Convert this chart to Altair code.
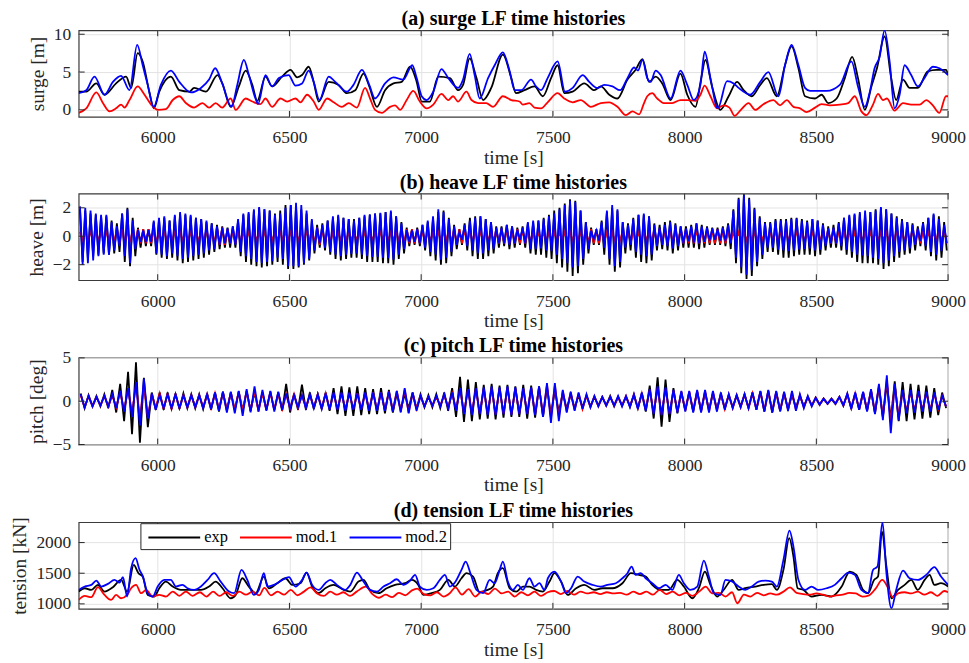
import altair as alt
import pandas as pd

SERIES = ["exp", "mod.1", "mod.2"]
COLORS = ["#000000", "#ff0000", "#0000ff"]
XTICKS = [6000, 6500, 7000, 7500, 8000, 8500, 9000]
FONT = "Liberation Serif"

# ---------------- (a) surge [m] ----------------
surge_exp_t = [5700, 5729, 5767, 5798, 5842, 5880, 5899, 5924, 5943, 5968, 5985, 6006, 6050, 6082, 6120, 6138, 6183, 6227, 6245, 6277,
               6308, 6334, 6359, 6378, 6409, 6434, 6472, 6504, 6529, 6548, 6573, 6592, 6611, 6649, 6687, 6718, 6750, 6781, 6803, 6832,
               6863, 6895, 6926, 6958, 6983, 7002, 7033, 7065, 7109, 7140, 7159, 7184, 7210, 7235, 7266, 7310, 7342, 7360, 7392, 7430,
               7462, 7493, 7518, 7543, 7575, 7619, 7657, 7682, 7714, 7745, 7783, 7814, 7840, 7865, 7890, 7915, 7947, 7984, 8010, 8041,
               8063, 8079, 8104, 8136, 8167, 8199, 8224, 8255, 8287, 8312, 8350, 8381, 8406, 8432, 8457, 8495, 8520, 8545, 8577, 8608,
               8636, 8658, 8684, 8709, 8730, 8759, 8784, 8803, 8829, 8854, 8885, 8923, 8955, 8992, 9000]
surge_exp_v = [2.4, 2.4, 3.5, 2.0, 3.5, 4.4, 2.9, 7.5, 6.4, 2.4, 0.2, 2.4, 4.4, 2.6, 2.4, 2.9, 2.4, 4.6, 3.5, 0.4,
               3.1, 5.2, 3.3, 1.2, 4.4, 3.1, 4.4, 5.3, 4.3, 4.6, 5.7, 3.7, 1.1, 3.7, 3.3, 2.2, 2.6, 4.8, 3.1, 0.4,
               2.6, 3.5, 3.7, 5.7, 3.7, 1.1, 1.1, 4.4, 4.2, 2.6, 3.3, 6.8, 4.2, 1.3, 2.9, 7.3, 4.2, 2.2, 2.6, 3.1,
               1.8, 4.2, 5.9, 2.2, 2.4, 3.5, 2.6, 3.1, 2.0, 1.5, 4.0, 5.3, 6.7, 3.7, 4.4, 3.5, 1.3, 4.8, 2.0, 0.4,
               4.2, 6.6, 3.1, 0.0, 1.8, 3.7, 2.6, 1.8, 3.3, 4.2, 1.8, 5.9, 8.4, 5.5, 1.8, 1.5, 2.0, 0.9, 1.5, 4.2,
               7.0, 4.2, 0.0, 3.1, 5.5, 9.7, 4.2, 1.3, 4.0, 2.9, 2.9, 5.1, 5.3, 5.3, 4.6]
surge_mod1_t = [5700, 5729, 5767, 5792, 5817, 5842, 5861, 5874, 5893, 5924, 5950, 5975, 6000, 6031, 6057, 6082, 6107, 6138, 6170, 6195,
                6220, 6245, 6277, 6296, 6334, 6359, 6390, 6409, 6434, 6466, 6491, 6523, 6542, 6567, 6592, 6611, 6643, 6668, 6699, 6725,
                6756, 6787, 6806, 6825, 6851, 6882, 6901, 6920, 6945, 6970, 6995, 7021, 7046, 7077, 7103, 7121, 7140, 7172, 7191, 7216,
                7247, 7273, 7310, 7342, 7373, 7386, 7411, 7430, 7455, 7480, 7518, 7543, 7575, 7606, 7644, 7682, 7714, 7745, 7777, 7802,
                7827, 7846, 7858, 7877, 7896, 7921, 7953, 7984, 8010, 8041, 8060, 8076, 8098, 8123, 8148, 8170, 8190, 8211, 8243, 8268,
                8299, 8337, 8362, 8388, 8413, 8438, 8463, 8495, 8520, 8551, 8589, 8621, 8646, 8671, 8690, 8715, 8734, 8753, 8768, 8797,
                8829, 8860, 8892, 8917, 8942, 8967, 8992, 9000]
surge_mod1_v = [-0.4, 0.2, 2.3, 0.9, -0.2, 0.2, 0.7, 0.3, 1.3, 3.1, 2.0, 0.7, 0.0, 0.1, 1.3, 1.8, 0.9, 0.3, 0.9, 0.3,
                0.9, 0.3, 1.5, 0.0, 1.5, 1.1, 0.75, 1.5, 0.4, 1.5, 1.1, 1.5, 1.0, 2.0, 1.1, 0.0, 1.5, 1.0, 0.4, 0.9,
                0.3, 2.9, 1.5, 0.0, -0.4, 0.4, 0.6, 0.0, 1.3, 2.5, 1.1, 0.2, 0.7, 2.1, 1.3, 1.8, 1.1, 2.4, 1.3, 0.9,
                0.9, 0.4, 1.8, 1.3, 1.1, 0.7, 0.9, 0.3, 0.2, 1.0, 2.2, 1.5, 1.0, 1.3, 0.4, 0.9, 1.0, 0.4, -0.7, -0.2,
                -0.6, 0.9, 1.8, 2.2, 1.5, 0.9, 0.9, 1.3, 1.3, 1.2, 2.0, 3.2, 1.8, 0.2, 0.6, 0.3, -0.8, -0.1, 0.9, 0.0,
                0.75, 1.3, 0.6, 1.3, 0.4, 0.2, -0.3, 0.3, 0.75, 0.6, 0.7, 0.9, 1.8, -0.2, -0.7, 0.7, 2.1, 1.3, 1.5, -0.1,
                0.9, 0.7, 0.7, 1.3, 0.6, -0.4, 1.8, 1.8]
surge_mod2_t = [5700, 5729, 5760, 5798, 5830, 5861, 5893, 5922, 5943, 5962, 5985, 6012, 6050, 6082, 6126, 6164, 6195, 6218, 6245, 6280,
                6302, 6327, 6346, 6371, 6381, 6409, 6434, 6460, 6497, 6523, 6548, 6573, 6592, 6614, 6649, 6674, 6718, 6743, 6775, 6803,
                6825, 6863, 6895, 6932, 6966, 6983, 7002, 7021, 7046, 7077, 7103, 7140, 7159, 7184, 7203, 7222, 7254, 7279, 7310, 7336,
                7355, 7380, 7417, 7436, 7455, 7480, 7518, 7546, 7575, 7613, 7638, 7669, 7695, 7726, 7755, 7783, 7808, 7823, 7840, 7858,
                7871, 7890, 7909, 7947, 7984, 8010, 8035, 8060, 8076, 8098, 8126, 8161, 8186, 8205, 8249, 8287, 8318, 8356, 8381, 8406,
                8432, 8457, 8476, 8539, 8589, 8633, 8658, 8684, 8703, 8721, 8740, 8759, 8778, 8797, 8816, 8835, 8860, 8885, 8910, 8942,
                8967, 9000]
surge_mod2_v = [2.2, 2.6, 4.4, 2.0, 3.7, 4.5, 2.6, 8.6, 5.9, 3.3, 0.4, 3.3, 5.2, 3.7, 2.3, 2.9, 4.0, 5.5, 3.5, 0.4,
                3.3, 6.6, 4.6, 1.5, 0.8, 4.6, 3.1, 4.2, 4.6, 3.2, 3.5, 5.2, 3.7, 1.3, 4.4, 3.7, 2.4, 3.3, 5.3, 3.3,
                1.5, 3.5, 4.3, 4.0, 5.9, 4.2, 1.8, 1.3, 2.4, 5.4, 4.2, 2.9, 4.0, 7.4, 4.6, 1.5, 4.2, 5.9, 7.6, 5.1,
                2.6, 2.6, 4.0, 3.1, 2.6, 4.2, 6.4, 2.4, 2.9, 4.6, 3.7, 2.9, 3.3, 3.1, 2.6, 4.2, 5.6, 5.2, 6.6, 4.2,
                3.7, 5.2, 4.6, 1.5, 5.2, 3.3, 1.3, 3.3, 7.7, 4.2, 0.2, 3.8, 3.5, 2.9, 2.0, 3.7, 5.0, 1.8, 5.9, 8.6,
                5.9, 2.9, 2.5, 2.5, 3.3, 6.4, 3.1, 0.4, 2.4, 5.5, 7.0, 10.5, 6.4, 0.2, 2.0, 5.9, 4.6, 3.1, 4.2, 5.7,
                5.5, 4.6]

# ---------------- (b) heave [m]: crest / trough of each 20 s wave cycle ----------------
heave_cycle_start = 5700
heave_cycle_len = 20
heave_exp_hi = [1.9, 1.8, 1.6, 1.5, 1.4, 1.4, 1.1, 0.9, 1.6, 2.0, 1.3, 0.6, 0.5, 0.5, 1.0, 1.2, 1.3, 1.1, 1.4, 1.6,
                1.5, 1.4, 1.3, 1.2, 1.0, 0.9, 0.8, 0.7, 0.6, 0.7, 1.1, 1.5, 1.6, 1.8, 2.0, 1.9, 1.8, 1.6, 1.8, 2.2,
                2.2, 2.1, 1.9, 1.6, 1.1, 0.8, 0.9, 1.1, 1.3, 1.4, 1.3, 1.2, 1.2, 1.3, 1.4, 1.5, 1.6, 1.6, 1.7, 1.7,
                1.4, 1.0, 0.6, 0.5, 0.6, 0.8, 1.0, 1.3, 1.7, 1.8, 1.3, 0.8, 0.5, 0.9, 1.3, 1.4, 1.4, 1.2, 1.0, 0.7,
                0.7, 0.8, 0.7, 0.6, 0.7, 0.9, 1.0, 1.1, 1.3, 1.5, 1.8, 2.0, 2.3, 2.6, 2.5, 1.8, 1.0, 0.6, 0.5, 1.1,
                1.7, 2.0, 1.8, 1.0, 0.9, 1.3, 1.5, 1.5, 1.4, 0.9, 0.8, 1.0, 1.1, 0.9, 0.7, 0.7, 0.8, 0.9, 0.8, 0.7,
                0.6, 0.6, 0.7, 0.9, 1.9, 2.7, 2.95, 2.7, 2.0, 1.4, 1.0, 1.0, 1.2, 1.2, 1.2, 1.3, 1.3, 1.2, 1.1, 1.2,
                1.1, 0.9, 0.7, 0.8, 1.0, 1.3, 1.4, 1.5, 1.6, 1.6, 1.7, 1.9, 2.0, 1.9, 1.6, 1.4, 1.2, 1.0, 0.9, 0.7,
                1.0, 1.3, 1.5, 1.4, 1.0]
heave_exp_lo = [1.8, 1.6, 1.4, 1.3, 1.2, 1.3, 1.2, 1.1, 1.8, 2.1, 1.4, 0.8, 0.7, 0.7, 1.3, 1.5, 1.6, 1.5, 1.7, 1.9,
                1.8, 1.7, 1.6, 1.5, 1.3, 1.1, 0.9, 0.8, 0.8, 0.8, 1.4, 1.8, 2.0, 2.1, 2.2, 2.1, 2.0, 1.8, 2.0, 2.3,
                2.3, 2.2, 2.0, 1.7, 1.2, 0.8, 1.0, 1.3, 1.6, 1.7, 1.6, 1.5, 1.5, 1.6, 1.8, 1.8, 1.8, 1.9, 1.9, 2.0,
                1.6, 1.2, 0.7, 0.6, 0.7, 1.0, 1.4, 1.7, 2.0, 1.9, 1.4, 0.9, 0.6, 1.0, 1.4, 1.6, 1.6, 1.4, 1.2, 0.8,
                0.7, 0.9, 0.8, 0.6, 0.8, 1.2, 1.3, 1.3, 1.5, 1.6, 1.9, 2.2, 2.5, 2.8, 2.6, 2.0, 1.2, 0.6, 0.6, 1.3,
                2.0, 2.5, 2.2, 1.2, 1.0, 1.5, 1.8, 1.9, 1.7, 1.0, 0.9, 1.0, 1.2, 1.0, 0.8, 0.8, 0.8, 0.9, 0.8, 0.6,
                0.6, 0.6, 0.7, 0.9, 1.9, 2.6, 3.0, 2.8, 2.1, 1.6, 1.1, 1.1, 1.3, 1.5, 1.5, 1.4, 1.3, 1.3, 1.3, 1.4,
                1.3, 1.0, 0.8, 0.8, 1.0, 1.3, 1.5, 1.8, 1.9, 1.9, 1.9, 2.0, 2.3, 2.1, 1.8, 1.5, 1.3, 1.2, 1.0, 0.7,
                1.0, 1.4, 1.7, 1.5, 1.0]
heave_mod1_amp = [0.3, 0.3, 0.3, 0.3, 0.3, 0.3, 0.4, 0.5, 0.5, 0.4, 0.4, 0.5, 0.5, 0.5, 0.4, 0.3, 0.3, 0.3, 0.3, 0.3,
                  0.3, 0.3, 0.4, 0.4, 0.5, 0.5, 0.6, 0.6, 0.5, 0.5, 0.4, 0.3, 0.3, 0.3, 0.3, 0.3, 0.3, 0.3, 0.3, 0.3,
                  0.3, 0.3, 0.3, 0.4, 0.5, 0.6, 0.5, 0.4, 0.3, 0.3, 0.3, 0.3, 0.3, 0.3, 0.3, 0.3, 0.3, 0.3, 0.3, 0.3,
                  0.4, 0.5, 0.5, 0.5, 0.5, 0.4, 0.3, 0.3, 0.3, 0.3, 0.4, 0.5, 0.5, 0.5, 0.4, 0.3, 0.3, 0.3, 0.4, 0.5,
                  0.5, 0.5, 0.5, 0.5, 0.5, 0.4, 0.4, 0.3, 0.3, 0.3, 0.3, 0.3, 0.3, 0.3, 0.3, 0.3, 0.5, 0.5, 0.5, 0.4,
                  0.3, 0.3, 0.3, 0.4, 0.5, 0.4, 0.3, 0.3, 0.4, 0.5, 0.5, 0.5, 0.4, 0.4, 0.5, 0.5, 0.5, 0.5, 0.5, 0.5,
                  0.5, 0.5, 0.5, 0.4, 0.3, 0.3, 0.3, 0.3, 0.3, 0.3, 0.4, 0.4, 0.4, 0.4, 0.4, 0.4, 0.4, 0.4, 0.4, 0.4,
                  0.4, 0.5, 0.5, 0.5, 0.4, 0.4, 0.4, 0.3, 0.3, 0.3, 0.3, 0.3, 0.3, 0.3, 0.3, 0.4, 0.4, 0.4, 0.5, 0.5,
                  0.4, 0.3, 0.3, 0.4, 0.5]
heave_mod2_hi = [2.1, 2.0, 1.8, 1.6, 1.5, 1.5, 1.0, 0.7, 1.6, 1.9, 1.1, 0.45, 0.4, 0.45, 1.1, 1.3, 1.4, 1.1, 1.5, 1.7,
                 1.6, 1.5, 1.3, 1.2, 1.1, 0.9, 0.7, 0.6, 0.55, 0.7, 1.2, 1.6, 1.7, 1.9, 2.05, 1.9, 1.8, 1.5, 1.6, 2.0,
                 2.2, 2.35, 2.2, 1.8, 1.2, 0.6, 0.8, 1.1, 1.4, 1.5, 1.3, 1.2, 1.1, 1.3, 1.5, 1.55, 1.6, 1.65, 1.7, 1.8,
                 1.4, 0.9, 0.45, 0.4, 0.5, 0.8, 1.1, 1.4, 1.9, 1.7, 1.2, 0.7, 0.3, 0.8, 1.1, 1.3, 1.4, 1.2, 1.0, 0.6,
                 0.6, 0.8, 0.7, 0.45, 0.6, 1.0, 1.1, 1.1, 1.2, 1.4, 1.6, 1.9, 2.2, 2.5, 2.4, 1.8, 1.0, 0.4, 0.4, 1.0,
                 1.8, 2.2, 1.9, 1.0, 0.8, 1.2, 1.5, 1.6, 1.4, 0.8, 0.6, 0.8, 1.0, 0.8, 0.7, 0.55, 0.7, 0.9, 0.7, 0.6,
                 0.55, 0.5, 0.6, 0.8, 1.8, 2.6, 2.9, 2.6, 1.9, 1.3, 0.9, 0.9, 1.1, 1.1, 1.1, 1.2, 1.25, 1.1, 1.0, 1.2,
                 1.1, 0.8, 0.55, 0.6, 0.9, 1.3, 1.5, 1.6, 1.7, 1.8, 1.7, 1.8, 2.05, 1.9, 1.6, 1.3, 1.1, 1.0, 0.8, 0.55,
                 0.9, 1.3, 1.6, 1.2, 0.8]
heave_mod2_lo = [2.0, 1.9, 1.7, 1.4, 1.3, 1.3, 1.0, 0.7, 1.4, 1.9, 0.9, 0.4, 0.4, 0.4, 1.2, 1.3, 1.4, 1.2, 1.4, 1.6,
                 1.5, 1.4, 1.3, 1.2, 1.0, 0.9, 0.6, 0.5, 0.5, 0.6, 1.1, 1.4, 1.6, 1.8, 1.9, 1.8, 1.75, 1.5, 1.6, 2.1,
                 2.1, 2.1, 1.9, 1.6, 1.0, 0.5, 0.8, 1.1, 1.3, 1.4, 1.3, 1.25, 1.2, 1.3, 1.4, 1.45, 1.45, 1.5, 1.55, 1.65,
                 1.3, 0.9, 0.4, 0.4, 0.5, 0.8, 1.1, 1.3, 1.65, 1.5, 1.1, 0.6, 0.25, 0.7, 1.0, 1.2, 1.2, 1.0, 0.9, 0.5,
                 0.5, 0.6, 0.5, 0.25, 0.5, 0.9, 0.9, 0.85, 1.0, 1.05, 1.3, 1.6, 1.9, 2.2, 2.1, 1.6, 0.9, 0.2, 0.3, 0.8,
                 1.6, 2.1, 1.8, 0.8, 0.6, 1.1, 1.3, 1.4, 1.3, 0.7, 0.6, 0.7, 0.85, 0.7, 0.5, 0.35, 0.45, 0.5, 0.4, 0.3,
                 0.25, 0.3, 0.35, 0.5, 1.5, 2.2, 2.7, 2.4, 1.8, 1.3, 0.8, 0.8, 0.95, 1.0, 1.05, 1.0, 0.95, 0.9, 0.85, 1.0,
                 0.95, 0.7, 0.5, 0.5, 0.7, 0.95, 1.1, 1.3, 1.35, 1.4, 1.5, 1.6, 1.9, 1.7, 1.4, 1.1, 1.0, 0.85, 0.6, 0.35,
                 0.7, 1.1, 1.3, 1.05, 0.5]

# ---------------- (c) pitch [deg]: crest / trough of each 30 s cycle ----------------
pitch_cycle_start = 5700
pitch_cycle_len = 30
pitch_exp_hi = [0.9, 0.7, 0.6, 0.8, 1.3, 2.0, 3.4, 4.5, 2.7, 1.0,
                1.0, 1.0, 0.9, 0.9, 0.8, 0.8, 0.9, 1.0, 1.1, 1.0,
                1.1, 1.2, 1.0, 1.0, 1.1, 1.0, 2.0, 0.9, 1.9, 1.0,
                0.8, 1.0, 1.5, 1.7, 1.6, 1.7, 1.5, 1.4, 1.5, 1.3,
                0.9, 0.8, 1.0, 0.8, 0.7, 0.8, 1.0, 1.5, 2.8, 2.5,
                2.2, 1.9, 2.0, 1.8, 1.9, 1.7, 1.9, 1.8, 1.7, 1.6,
                1.2, 0.9, 0.8, 0.7, 0.6, 0.5, 0.5, 0.6, 0.5, 0.5,
                0.7, 0.9, 1.8, 2.75, 2.5, 1.5, 1.0, 1.0, 1.1, 1.0,
                0.9, 0.8, 0.7, 0.7, 0.8, 1.0, 1.1, 1.2, 1.0, 0.9,
                0.7, 0.6, 0.5, 0.4, 0.3, 0.3, 0.5, 0.8, 0.9, 1.0,
                1.2, 1.6, 2.0, 2.3, 2.2, 2.0, 1.9, 1.8, 1.5, 1.0]
pitch_exp_lo = [0.8, 0.6, 0.6, 0.8, 1.3, 2.3, 3.8, 4.8, 3.0, 1.0,
                1.0, 0.9, 0.9, 0.8, 0.8, 0.9, 1.0, 1.2, 1.1, 1.0,
                1.1, 1.1, 1.0, 1.0, 1.0, 1.1, 1.3, 1.0, 1.0, 0.9,
                0.9, 1.1, 1.5, 1.7, 1.7, 1.6, 1.5, 1.5, 1.4, 1.3,
                1.0, 0.8, 0.9, 0.7, 0.7, 0.8, 1.1, 1.8, 2.4, 2.3,
                2.1, 2.0, 2.1, 1.9, 1.8, 1.8, 2.0, 1.9, 1.8, 1.5,
                1.2, 0.9, 0.8, 0.7, 0.6, 0.5, 0.5, 0.6, 0.5, 0.6,
                0.8, 1.2, 2.0, 2.95, 2.4, 1.4, 1.0, 1.2, 1.1, 1.0,
                0.9, 0.8, 0.7, 0.6, 0.8, 1.0, 1.2, 1.3, 1.1, 0.9,
                0.7, 0.6, 0.5, 0.4, 0.3, 0.3, 0.5, 0.8, 1.0, 1.1,
                1.4, 1.8, 2.1, 2.3, 2.3, 2.1, 2.0, 1.9, 1.6, 0.8]
pitch_mod1_amp = [0.7, 0.6, 0.5, 0.6, 0.7, 1.0, 1.3, 1.8, 1.8, 0.8,
                  0.9, 0.9, 0.8, 0.7, 0.7, 0.7, 0.8, 0.9, 1.0, 1.0,
                  1.1, 1.1, 1.2, 1.0, 1.0, 0.9, 0.8, 0.8, 0.7, 0.7,
                  0.8, 0.9, 0.9, 0.9, 0.9, 0.9, 0.9, 1.0, 1.0, 1.1,
                  1.2, 1.3, 0.9, 0.6, 0.5, 0.5, 0.7, 0.9, 1.3, 1.3,
                  1.4, 1.4, 1.5, 1.4, 1.5, 1.4, 1.4, 1.5, 1.6, 1.9,
                  1.8, 1.2, 1.0, 0.9, 0.7, 0.6, 0.5, 0.5, 0.5, 0.6,
                  0.8, 0.9, 1.3, 1.5, 1.4, 1.2, 1.1, 1.1, 1.2, 1.2,
                  1.1, 0.9, 0.8, 0.7, 0.8, 0.9, 1.1, 1.2, 1.1, 1.0,
                  1.0, 0.7, 0.5, 0.4, 0.3, 0.3, 0.5, 0.8, 0.9, 1.0,
                  1.3, 1.8, 2.5, 1.8, 1.2, 1.1, 1.1, 1.0, 0.9, 0.6]
pitch_mod2_hi = [0.8, 0.6, 0.5, 0.6, 0.8, 1.2, 1.5, 2.2, 2.6, 0.9,
                 0.7, 0.8, 0.8, 0.7, 0.7, 0.7, 0.8, 1.0, 1.1, 1.1,
                 1.2, 1.4, 1.7, 1.3, 1.2, 1.1, 0.9, 0.7, 0.7, 0.8,
                 0.8, 0.9, 1.0, 1.0, 1.0, 0.9, 1.0, 1.0, 1.0, 1.1,
                 1.2, 1.5, 1.0, 0.6, 0.5, 0.6, 0.8, 1.0, 1.5, 1.4,
                 1.5, 1.6, 1.7, 1.6, 1.7, 1.6, 1.5, 1.6, 1.7, 2.1,
                 2.1, 1.3, 1.1, 1.0, 0.8, 0.6, 0.5, 0.5, 0.6, 0.6,
                 0.8, 1.0, 1.4, 1.7, 1.6, 1.3, 1.2, 1.2, 1.3, 1.3,
                 1.2, 1.0, 0.8, 0.7, 0.8, 1.0, 1.2, 1.3, 1.2, 1.1,
                 1.2, 0.8, 0.6, 0.4, 0.3, 0.3, 0.5, 0.9, 1.0, 1.1,
                 1.4, 2.0, 3.0, 2.0, 1.3, 1.3, 1.2, 1.1, 1.0, 0.6]
pitch_mod2_lo = [0.7, 0.6, 0.5, 0.6, 0.8, 1.2, 1.8, 2.8, 2.0, 1.0,
                 0.8, 0.8, 0.8, 0.7, 0.7, 0.8, 0.9, 1.1, 1.3, 1.4,
                 1.7, 1.3, 1.2, 1.1, 1.2, 1.0, 0.8, 0.7, 0.8, 0.8,
                 0.9, 1.0, 1.0, 1.1, 1.0, 1.0, 1.1, 1.1, 1.1, 1.2,
                 1.3, 1.4, 1.1, 0.6, 0.5, 0.6, 0.8, 1.1, 1.5, 1.6,
                 1.5, 1.6, 1.6, 1.5, 1.6, 1.5, 1.5, 1.6, 1.8, 2.5,
                 2.3, 1.3, 1.1, 0.9, 0.7, 0.6, 0.5, 0.5, 0.6, 0.7,
                 0.9, 1.1, 1.5, 1.6, 1.5, 1.3, 1.2, 1.3, 1.3, 1.3,
                 1.2, 1.0, 0.8, 0.7, 0.8, 1.0, 1.2, 1.3, 1.2, 1.1,
                 1.1, 0.8, 0.6, 0.4, 0.3, 0.3, 0.5, 0.9, 1.0, 1.2,
                 1.5, 2.2, 3.7, 2.2, 1.4, 1.3, 1.2, 1.2, 1.0, 0.6]

# ---------------- (d) tension [kN] ----------------
tension_exp_t = [5700, 5723, 5748, 5773, 5798, 5830, 5861, 5884, 5909, 5927, 5943, 5962, 5987, 6006, 6031, 6057, 6088, 6126, 6164, 6195,
                 6220, 6246, 6277, 6296, 6321, 6346, 6372, 6403, 6422, 6454, 6485, 6510, 6542, 6565, 6586, 6611, 6636, 6668, 6706, 6731,
                 6762, 6781, 6806, 6838, 6869, 6901, 6939, 6964, 6989, 7008, 7040, 7071, 7103, 7128, 7153, 7172, 7197, 7222, 7247, 7273,
                 7291, 7310, 7336, 7361, 7386, 7411, 7436, 7462, 7487, 7506, 7531, 7556, 7588, 7619, 7657, 7688, 7726, 7764, 7796, 7827,
                 7852, 7877, 7909, 7940, 7972, 7997, 8029, 8054, 8077, 8098, 8123, 8148, 8180, 8205, 8230, 8268, 8300, 8331, 8350, 8375,
                 8397, 8413, 8429, 8451, 8482, 8520, 8558, 8596, 8627, 8652, 8677, 8696, 8719, 8734, 8749, 8766, 8785, 8810, 8835, 8860,
                 8885, 8911, 8930, 8948, 8973, 9000]
tension_exp_v = [1201, 1255, 1228, 1310, 1201, 1272, 1391, 1201, 1636, 1500, 1446, 1147, 1120, 1255, 1364, 1283, 1228, 1228, 1228, 1283,
                 1364, 1255, 1092, 1147, 1418, 1283, 1174, 1446, 1255, 1337, 1418, 1310, 1337, 1511, 1283, 1174, 1255, 1310, 1228, 1201,
                 1364, 1391, 1228, 1174, 1255, 1310, 1337, 1391, 1310, 1147, 1174, 1228, 1391, 1283, 1418, 1500, 1446, 1190, 1220, 1283,
                 1500, 1582, 1255, 1201, 1283, 1283, 1228, 1201, 1364, 1500, 1364, 1147, 1255, 1310, 1228, 1255, 1255, 1337, 1500, 1473,
                 1446, 1310, 1228, 1228, 1391, 1283, 1092, 1255, 1527, 1310, 1120, 1228, 1391, 1228, 1255, 1283, 1310, 1321, 1228, 1554,
                 2071, 1772, 1255, 1228, 1120, 1147, 1120, 1283, 1527, 1473, 1228, 1174, 1391, 1446, 2179, 1609, 1092, 1228, 1310, 1391,
                 1228, 1391, 1473, 1310, 1337, 1283]
tension_mod1_t = [5700, 5723, 5748, 5773, 5798, 5823, 5842, 5861, 5884, 5899, 5918, 5937, 5956, 5981, 6006, 6031, 6057, 6082, 6107, 6132,
                  6160, 6185, 6210, 6235, 6260, 6285, 6310, 6335, 6360, 6385, 6405, 6430, 6455, 6480, 6505, 6530, 6555, 6580, 6605, 6630,
                  6655, 6680, 6705, 6730, 6755, 6790, 6815, 6840, 6865, 6890, 6915, 6940, 6965, 6985, 7010, 7035, 7060, 7085, 7110, 7130,
                  7155, 7180, 7205, 7230, 7255, 7280, 7305, 7330, 7355, 7380, 7405, 7430, 7455, 7480, 7505, 7530, 7555, 7580, 7605, 7630,
                  7655, 7680, 7705, 7730, 7755, 7780, 7805, 7830, 7855, 7880, 7905, 7930, 7955, 7980, 8005, 8030, 8055, 8080, 8105, 8130,
                  8155, 8180, 8200, 8225, 8250, 8275, 8300, 8325, 8350, 8375, 8400, 8425, 8450, 8475, 8500, 8525, 8550, 8575, 8600, 8625,
                  8650, 8675, 8700, 8725, 8750, 8770, 8790, 8810, 8835, 8860, 8885, 8910, 8935, 8960, 8985, 9000]
tension_mod1_v = [1065, 1130, 1109, 1272, 1147, 1065, 1147, 1092, 1147, 1255, 1310, 1174, 1228, 1120, 1147, 1120, 1201, 1130, 1201, 1130,
                  1190, 1120, 1200, 1130, 1190, 1130, 1200, 1150, 1200, 1140, 1260, 1140, 1200, 1150, 1230, 1140, 1200, 1270, 1170, 1130,
                  1200, 1150, 1190, 1130, 1200, 1280, 1160, 1100, 1150, 1110, 1180, 1140, 1220, 1250, 1160, 1140, 1190, 1120, 1180, 1270,
                  1150, 1240, 1120, 1200, 1160, 1250, 1170, 1200, 1120, 1190, 1140, 1200, 1130, 1190, 1210, 1160, 1210, 1150, 1200, 1170,
                  1190, 1160, 1190, 1170, 1180, 1150, 1200, 1160, 1200, 1150, 1230, 1160, 1200, 1140, 1180, 1130, 1200, 1280, 1170, 1180,
                  1120, 1190, 1010, 1150, 1120, 1180, 1140, 1170, 1150, 1200, 1270, 1180, 1160, 1150, 1170, 1150, 1120, 1140, 1150, 1180,
                  1170, 1120, 1140, 1250, 1390, 1280, 1110, 1170, 1190, 1170, 1200, 1150, 1190, 1130, 1210, 1190]
tension_mod2_t = [5700, 5723, 5748, 5767, 5786, 5811, 5836, 5855, 5868, 5884, 5899, 5916, 5931, 5943, 5962, 5981, 6000, 6025, 6050, 6069,
                  6094, 6113, 6138, 6164, 6189, 6214, 6239, 6271, 6290, 6318, 6340, 6365, 6384, 6403, 6416, 6441, 6473, 6498, 6523, 6548,
                  6565, 6586, 6611, 6636, 6655, 6680, 6712, 6731, 6756, 6781, 6806, 6832, 6857, 6882, 6907, 6932, 6958, 6977, 6995, 7021,
                  7046, 7071, 7090, 7109, 7128, 7153, 7169, 7187, 7210, 7235, 7260, 7279, 7298, 7310, 7329, 7348, 7367, 7386, 7411, 7430,
                  7449, 7468, 7481, 7506, 7531, 7550, 7569, 7594, 7619, 7651, 7682, 7707, 7739, 7764, 7783, 7799, 7814, 7833, 7852, 7877,
                  7903, 7928, 7953, 7978, 7997, 8022, 8048, 8073, 8092, 8111, 8136, 8155, 8180, 8205, 8230, 8255, 8281, 8306, 8331, 8350,
                  8375, 8398, 8413, 8432, 8457, 8482, 8507, 8539, 8570, 8596, 8621, 8646, 8671, 8696, 8715, 8732, 8751, 8766, 8785, 8803,
                  8829, 8854, 8885, 8917, 8948, 8973, 9000]
tension_mod2_v = [1228, 1283, 1310, 1380, 1283, 1326, 1391, 1348, 1435, 1120, 1580, 1745, 1554, 1457, 1174, 1120, 1283, 1391, 1391, 1283,
                  1310, 1255, 1228, 1283, 1391, 1500, 1364, 1201, 1174, 1554, 1391, 1147, 1228, 1500, 1283, 1310, 1391, 1435, 1283, 1391,
                  1511, 1310, 1228, 1337, 1391, 1310, 1228, 1310, 1511, 1364, 1228, 1201, 1283, 1337, 1402, 1310, 1380, 1473, 1283, 1228,
                  1255, 1391, 1473, 1283, 1348, 1554, 1690, 1500, 1228, 1174, 1391, 1337, 1554, 1690, 1364, 1228, 1310, 1228, 1418, 1283,
                  1337, 1228, 1418, 1527, 1364, 1174, 1255, 1446, 1364, 1310, 1283, 1310, 1337, 1418, 1500, 1609, 1473, 1500, 1418, 1337,
                  1255, 1310, 1228, 1473, 1337, 1228, 1283, 1707, 1446, 1174, 1147, 1391, 1364, 1283, 1228, 1283, 1364, 1380, 1364, 1283,
                  1717, 2196, 1935, 1391, 1228, 1283, 1228, 1255, 1310, 1418, 1511, 1473, 1228, 1174, 1554, 1609, 2332, 1500, 929, 1228,
                  1543, 1418, 1391, 1473, 1598, 1446, 1310]


def long_table(pairs):
    rows = []
    for name, ts, vs in pairs:
        for t, v in zip(ts, vs):
            rows.append({"t": t, "v": v, "s": name})
    return pd.DataFrame(rows)


def cycles(start, length, hi, lo):
    ts, vs = [], []
    for i, (a, b) in enumerate(zip(hi, lo)):
        ts += [start + length * i + length * 0.25, start + length * i + length * 0.75]
        vs += [a, -b]
    return ts, vs


surge_df = long_table([("exp", surge_exp_t, surge_exp_v),
                       ("mod.1", surge_mod1_t, surge_mod1_v),
                       ("mod.2", surge_mod2_t, surge_mod2_v)])
heave_df = long_table([("exp",) + cycles(heave_cycle_start, heave_cycle_len, heave_exp_hi, heave_exp_lo),
                       ("mod.1",) + cycles(heave_cycle_start, heave_cycle_len, heave_mod1_amp, heave_mod1_amp),
                       ("mod.2",) + cycles(heave_cycle_start, heave_cycle_len, heave_mod2_hi, heave_mod2_lo)])
pitch_df = long_table([("exp",) + cycles(pitch_cycle_start, pitch_cycle_len, pitch_exp_hi, pitch_exp_lo),
                       ("mod.1",) + cycles(pitch_cycle_start, pitch_cycle_len, pitch_mod1_amp, pitch_mod1_amp),
                       ("mod.2",) + cycles(pitch_cycle_start, pitch_cycle_len, pitch_mod2_hi, pitch_mod2_lo)])
tension_df = long_table([("exp", tension_exp_t, tension_exp_v),
                         ("mod.1", tension_mod1_t, tension_mod1_v),
                         ("mod.2", tension_mod2_t, tension_mod2_v)])

W = 873
H = 87
TICK_COLOR = "#262626"


def panel(df, title, ytitle, ydomain, yticks, title_offset, legend=False, interp="monotone"):
    xscale = alt.Scale(domain=[5700, 9000], nice=False, zero=False)
    yscale = alt.Scale(domain=ydomain, nice=False, zero=False)
    if legend:
        leg = alt.Legend(orient="none", legendX=62, legendY=1, direction="horizontal", title=None,
                         symbolType="M-2.6,0H2.6", symbolSize=400, symbolStrokeWidth=2,
                         symbolOffset=20, labelOffset=19,
                         labelFont=FONT, labelFontSize=16.5, labelColor="black",
                         strokeColor="#262626", fillColor="white", padding=3,
                         columnPadding=7, rowPadding=0)
        color = alt.Color("s:N", scale=alt.Scale(domain=SERIES, range=COLORS), legend=leg)
    else:
        color = alt.Color("s:N", scale=alt.Scale(domain=SERIES, range=COLORS), legend=None)
    lines = alt.Chart(df).mark_line(strokeWidth=1.8, clip=True, interpolate=interp).encode(
        x=alt.X("t:Q", scale=xscale,
                axis=alt.Axis(values=XTICKS, title="time [s]", format="d", grid=True, ticks=False,
                              labelFlush=False, labelPadding=12, titlePadding=2)),
        y=alt.Y("v:Q", scale=yscale,
                axis=alt.Axis(values=yticks, title=ytitle, format="d", grid=True, ticks=False,
                              labelPadding=8, titlePadding=6)),
        color=color,
    )
    xt = pd.DataFrame({"t": XTICKS})
    yt = pd.DataFrame({"v": yticks})
    top_ticks = alt.Chart(xt).mark_rule(color=TICK_COLOR, strokeWidth=1).encode(
        x=alt.X("t:Q", scale=xscale), y=alt.value(0), y2=alt.value(6))
    bot_ticks = alt.Chart(xt).mark_rule(color=TICK_COLOR, strokeWidth=1).encode(
        x=alt.X("t:Q", scale=xscale), y=alt.value(H), y2=alt.value(H - 6))
    left_ticks = alt.Chart(yt).mark_rule(color=TICK_COLOR, strokeWidth=1).encode(
        y=alt.Y("v:Q", scale=yscale), x=alt.value(0), x2=alt.value(6))
    right_ticks = alt.Chart(yt).mark_rule(color=TICK_COLOR, strokeWidth=1).encode(
        y=alt.Y("v:Q", scale=yscale), x=alt.value(W), x2=alt.value(W - 6))
    return alt.layer(lines, top_ticks, bot_ticks, left_ticks, right_ticks).properties(
        width=W, height=H,
        title=alt.TitleParams(title, font=FONT, fontSize=20, fontWeight="bold", color="black",
                              anchor="middle", offset=title_offset),
    )


p1 = panel(surge_df, "(a) surge LF time histories", "surge [m]", [-0.93, 10.53], [0, 5, 10], -4)
p2 = panel(heave_df, "(b) heave LF time histories", "heave [m]", [-3.09, 3.0], [-2, 0, 2], 0.5, interp="linear")
p3 = panel(pitch_df, "(c) pitch LF time histories", "pitch [deg]", [-5, 5], [-5, 0, 5], -6.7, interp="linear")
p4 = panel(tension_df, "(d) tension LF time histories", "tension [kN]", [919, 2332], [1000, 1500, 2000], -4, legend=True)

chart = alt.vconcat(p1, p2, p3, p4, spacing=4).resolve_scale(color="independent").resolve_legend(
    color="independent"
).properties(
    padding={"left": 9, "top": 7, "right": 2, "bottom": 0},
    background="white",
).configure_view(
    stroke="#3a3a3a", strokeWidth=1.2
).configure_axis(
    labelFont=FONT, titleFont=FONT, labelFontSize=17.5, titleFontSize=19.5, titleFontWeight="normal",
    labelColor="#262626", titleColor="#262626", domain=False, gridColor="#e3e3e3", gridWidth=1,
)

chart.save("out.html", embed_options={"renderer": "svg", "actions": False})
